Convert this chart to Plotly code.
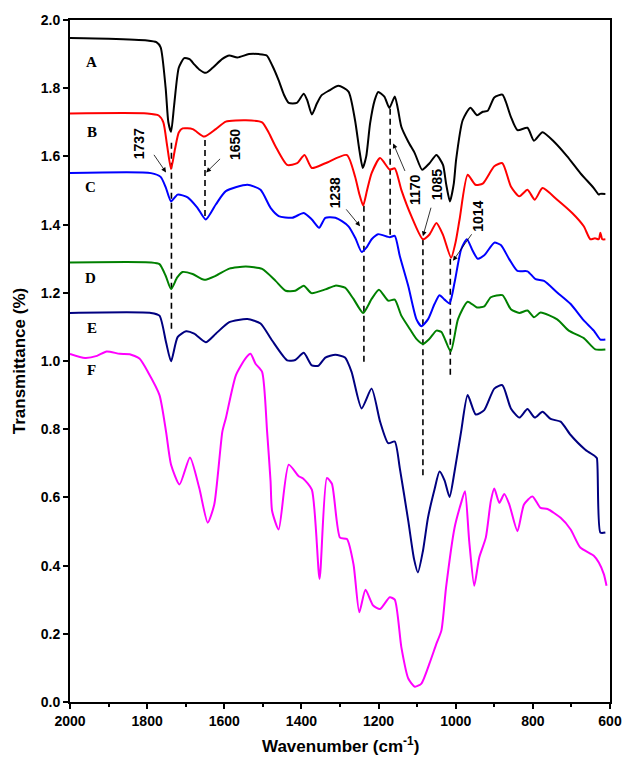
import plotly.graph_objects as go

# ---------------- data ----------------
wn_A = [2000, 1900, 1800, 1776, 1765, 1752, 1745, 1738, 1730, 1718, 1704, 1690, 1678, 1665, 1648, 1630, 1605, 1587,
        1566, 1536, 1510, 1490, 1475, 1459, 1445, 1433, 1412, 1394, 1385, 1373, 1360, 1348, 1330, 1304, 1278, 1261,
        1250, 1241, 1232, 1222, 1210, 1201, 1185, 1172, 1158, 1150, 1141, 1123, 1106, 1087, 1068, 1050, 1033, 1025,
        1015, 1005, 999, 982, 962, 945, 930, 917, 900, 879, 870, 857, 840, 814, 797, 775, 745, 711, 677, 642, 629,
        626, 612]
T_A = [1.947, 1.945, 1.94, 1.935, 1.92, 1.80, 1.70, 1.672, 1.75, 1.86, 1.888, 1.885, 1.87, 1.855, 1.845, 1.86, 1.886,
       1.896, 1.89, 1.90, 1.90, 1.896, 1.865, 1.823, 1.78, 1.757, 1.757, 1.784, 1.765, 1.723, 1.755, 1.779, 1.792,
       1.807, 1.79, 1.706, 1.62, 1.566, 1.60, 1.697, 1.765, 1.789, 1.775, 1.742, 1.776, 1.74, 1.687, 1.643, 1.609,
       1.561, 1.580, 1.604, 1.575, 1.52, 1.468, 1.52, 1.59, 1.706, 1.743, 1.721, 1.731, 1.734, 1.773, 1.781, 1.76,
       1.716, 1.677, 1.684, 1.646, 1.671, 1.643, 1.600, 1.551, 1.507, 1.488, 1.49, 1.49]

wn_B = [2000, 1800, 1770, 1758, 1748, 1738, 1728, 1718, 1708, 1682, 1652, 1622, 1596, 1544, 1502, 1485, 1467, 1437,
        1411, 1392, 1373, 1338, 1282, 1261, 1250, 1240, 1230, 1218, 1196, 1171, 1158, 1141, 1115, 1085, 1068, 1050,
        1033, 1012, 1000, 990, 969, 949, 930, 900, 879, 857, 835, 814, 795, 775, 737, 698, 668, 651, 639, 629, 625,
        620, 612]
T_B = [1.726, 1.726, 1.72, 1.70, 1.63, 1.563, 1.62, 1.67, 1.682, 1.68, 1.658, 1.68, 1.702, 1.706, 1.70, 1.67, 1.629,
       1.575, 1.58, 1.604, 1.566, 1.58, 1.604, 1.541, 1.49, 1.456, 1.50, 1.551, 1.595, 1.561, 1.565, 1.502, 1.425,
       1.357, 1.371, 1.405, 1.37, 1.303, 1.35, 1.415, 1.546, 1.517, 1.52, 1.571, 1.580, 1.512, 1.483, 1.502, 1.473,
       1.507, 1.473, 1.434, 1.395, 1.357, 1.36, 1.357, 1.376, 1.357, 1.357]

wn_C = [2000, 1790, 1765, 1752, 1738, 1721, 1695, 1670, 1648, 1622, 1596, 1540, 1506, 1480, 1459, 1424, 1394, 1373,
        1354, 1338, 1312, 1295, 1278, 1260, 1244, 1230, 1218, 1201, 1171, 1158, 1145, 1123, 1102, 1089, 1072, 1055,
        1042, 1029, 1016, 1003, 986, 971, 956, 943, 926, 900, 883, 861, 840, 814, 793, 771, 737, 702, 668, 642, 625,
        612]
T_C = [1.551, 1.551, 1.54, 1.51, 1.468, 1.488, 1.48, 1.45, 1.415, 1.459, 1.498, 1.517, 1.502, 1.449, 1.425, 1.42,
       1.434, 1.415, 1.391, 1.420, 1.42, 1.41, 1.395, 1.36, 1.32, 1.335, 1.357, 1.372, 1.363, 1.367, 1.308, 1.22,
       1.123, 1.102, 1.122, 1.167, 1.193, 1.18, 1.169, 1.23, 1.327, 1.357, 1.323, 1.30, 1.31, 1.347, 1.34, 1.298,
       1.264, 1.263, 1.24, 1.235, 1.201, 1.167, 1.119, 1.089, 1.063, 1.063]

wn_D = [2000, 1790, 1768, 1752, 1738, 1722, 1708, 1682, 1652, 1622, 1587, 1544, 1502, 1467, 1441, 1416, 1394, 1374,
        1338, 1312, 1287, 1265, 1240, 1218, 1199, 1175, 1158, 1141, 1119, 1102, 1085, 1068, 1050, 1037, 1013, 994,
        969, 945, 926, 909, 879, 857, 835, 814, 797, 780, 737, 707, 668, 638, 612]
T_D = [1.289, 1.289, 1.284, 1.25, 1.211, 1.245, 1.261, 1.255, 1.238, 1.25, 1.271, 1.277, 1.27, 1.235, 1.206, 1.206,
       1.221, 1.199, 1.21, 1.221, 1.215, 1.182, 1.141, 1.182, 1.209, 1.177, 1.18, 1.133, 1.094, 1.065, 1.050, 1.065,
       1.089, 1.085, 1.028, 1.123, 1.174, 1.157, 1.16, 1.187, 1.193, 1.152, 1.141, 1.148, 1.128, 1.142, 1.122, 1.089,
       1.067, 1.034, 1.034]

wn_E = [2000, 1790, 1768, 1751, 1738, 1721, 1699, 1678, 1648, 1622, 1587, 1540, 1506, 1476, 1437, 1416, 1394, 1373,
        1356, 1338, 1312, 1287, 1270, 1244, 1218, 1196, 1175, 1158, 1145, 1123, 1108, 1098, 1085, 1072, 1055, 1042,
        1029, 1016, 1003, 986, 969, 948, 926, 900, 879, 857, 835, 814, 795, 775, 754, 728, 702, 664, 638, 634, 625,
        612]
T_E = [1.141, 1.141, 1.133, 1.055, 0.999, 1.07, 1.087, 1.08, 1.055, 1.08, 1.114, 1.123, 1.11, 1.06, 1.002, 1.003,
       1.024, 0.987, 0.986, 1.01, 1.018, 1.01, 0.968, 0.861, 0.919, 0.822, 0.759, 0.764, 0.686, 0.531, 0.419, 0.380,
       0.443, 0.540, 0.623, 0.676, 0.65, 0.601, 0.676, 0.793, 0.90, 0.843, 0.856, 0.919, 0.929, 0.861, 0.834, 0.859,
       0.834, 0.851, 0.83, 0.822, 0.783, 0.740, 0.720, 0.715, 0.497, 0.497]

wn_F = [2000, 1961, 1930, 1905, 1871, 1845, 1820, 1798, 1768, 1751, 1738, 1716, 1689, 1665, 1643, 1626, 1605, 1596,
        1570, 1544, 1532, 1519, 1502, 1489, 1480, 1476, 1459, 1433, 1407, 1395, 1373, 1353, 1334, 1321, 1300, 1282,
        1265, 1250, 1234, 1214, 1196, 1171, 1158, 1141, 1123, 1106, 1089, 1068, 1050, 1037, 1025, 1003, 986, 976,
        965, 952, 939, 922, 909, 900, 887, 874, 861, 840, 823, 801, 780, 762, 728, 702, 677, 642, 629, 616, 609]
T_F = [1.021, 1.009, 1.015, 1.028, 1.021, 1.02, 1.007, 0.968, 0.90, 0.793, 0.696, 0.638, 0.717, 0.628, 0.526, 0.579,
       0.793, 0.832, 0.958, 1.009, 1.021, 0.992, 0.968, 0.793, 0.647, 0.56, 0.506, 0.696, 0.662, 0.655, 0.623, 0.361,
       0.657, 0.64, 0.482, 0.478, 0.404, 0.263, 0.329, 0.283, 0.273, 0.307, 0.30, 0.161, 0.069, 0.045, 0.054, 0.113,
       0.171, 0.21, 0.336, 0.511, 0.584, 0.618, 0.472, 0.341, 0.424, 0.482, 0.589, 0.626, 0.584, 0.61, 0.579, 0.501,
       0.579, 0.603, 0.569, 0.566, 0.54, 0.506, 0.453, 0.429, 0.409, 0.375, 0.341]

series_names = ["A", "B", "C", "D", "E", "F"]
series_colors = ["#000000", "#FF0000", "#0000FF", "#008000", "#000080", "#FF00FF"]
label_wn = [1943, 1943, 1948, 1948, 1943, 1945]
label_T = [1.877, 1.673, 1.51, 1.242, 1.096, 0.974]

# marked peaks: dashed guide lines
peak_wn = [1737, 1650, 1238, 1170, 1085, 1014]
peak_top = [1.64, 1.648, 1.455, 1.74, 1.357, 1.30]
peak_bottom = [1.085, 1.415, 0.997, 1.367, 0.66, 0.958]
peak_labels = ["1737", "1650", "1238", "1170", "1085", "1014"]
label_pos_wn = [1819, 1574, 1312, 1105, 1050, 943]
label_pos_T = [1.638, 1.634, 1.493, 1.502, 1.517, 1.425]
arrow_tail_wn = [1785, 1607, 1287, 1130, 1063, 956]
arrow_tail_T = [1.609, 1.597, 1.449, 1.553, 1.454, 1.376]
arrow_head_wn = [1751, 1647, 1248, 1162, 1085, 1007]
arrow_head_T = [1.553, 1.553, 1.395, 1.638, 1.366, 1.294]

x_ticks = [2000, 1800, 1600, 1400, 1200, 1000, 800, 600]
y_ticks = [0.0, 0.2, 0.4, 0.6, 0.8, 1.0, 1.2, 1.4, 1.6, 1.8, 2.0]

# ---------------- figure ----------------
fig = go.Figure()
all_wn = [wn_A, wn_B, wn_C, wn_D, wn_E, wn_F]
all_T = [T_A, T_B, T_C, T_D, T_E, T_F]

for i in range(len(peak_wn)):
    fig.add_trace(go.Scatter(x=[peak_wn[i], peak_wn[i]], y=[peak_top[i], peak_bottom[i]], mode="lines",
                             line=dict(color="#000000", width=1.6, dash="6px,4px"), showlegend=False,
                             hoverinfo="skip"))

for name, c, xs, ys in zip(series_names, series_colors, all_wn, all_T):
    fig.add_trace(go.Scatter(x=xs, y=ys, mode="lines", name=name,
                             line=dict(color=c, width=2, shape="spline", smoothing=0.6),
                             showlegend=False))

annotations = []
for name, lx, ly in zip(series_names, label_wn, label_T):
    annotations.append(dict(x=lx, y=ly, xref="x", yref="y", text=f"<b>{name}</b>", showarrow=False,
                            font=dict(family="Liberation Serif", size=15, color="#000000")))

for i in range(len(peak_wn)):
    annotations.append(dict(x=label_pos_wn[i], y=label_pos_T[i], xref="x", yref="y",
                            text=f"<b>{peak_labels[i]}</b>", textangle=-90, showarrow=False,
                            font=dict(family="Liberation Sans", size=14, color="#000000")))
    annotations.append(dict(x=arrow_head_wn[i], y=arrow_head_T[i], ax=arrow_tail_wn[i], ay=arrow_tail_T[i],
                            xref="x", yref="y", axref="x", ayref="y", text="", showarrow=True,
                            arrowhead=2, arrowsize=1.2, arrowwidth=0.8, arrowcolor="#000000"))

annotations.append(dict(x=-0.094, y=0.5, xref="paper", yref="paper", xanchor="center", yanchor="middle",
                        text="<b>Transmittance (%)</b>", textangle=-90, showarrow=False,
                        font=dict(family="Liberation Sans", size=17, color="#000000")))
annotations.append(dict(x=0.5, y=-0.063, xref="paper", yref="paper", xanchor="center", yanchor="middle",
                        text="<b>Wavenumber (cm<sup>-1</sup>)</b>", showarrow=False,
                        font=dict(family="Liberation Sans", size=17, color="#000000")))

fig.update_layout(
    width=634, height=765,
    margin=dict(l=70, r=21, t=16, b=63),
    paper_bgcolor="white", plot_bgcolor="white",
    annotations=annotations,
    font=dict(family="Liberation Sans", color="#000000"),
)
fig.update_xaxes(range=[2000, 600], tickvals=x_ticks, ticktext=[f"<b>{v}</b>" for v in x_ticks],
                 ticks="outside", ticklen=5, tickwidth=2, tickcolor="#000000",
                 minor=dict(dtick=100, ticks="outside", ticklen=3, tickwidth=1.5, tickcolor="#000000"),
                 showline=True, linewidth=2, linecolor="#000000", mirror=True, showgrid=False, zeroline=False,
                 tickfont=dict(family="Liberation Sans", size=14, color="#000000"))
fig.update_yaxes(range=[0.0, 2.0], tickvals=y_ticks, ticktext=[f"<b>{v:.1f}</b>" for v in y_ticks],
                 ticks="outside", ticklen=5, tickwidth=2, tickcolor="#000000",
                 showline=True, linewidth=2, linecolor="#000000", mirror=True, showgrid=False, zeroline=False,
                 tickfont=dict(family="Liberation Sans", size=14, color="#000000"))

fig.write_html("out.html")
